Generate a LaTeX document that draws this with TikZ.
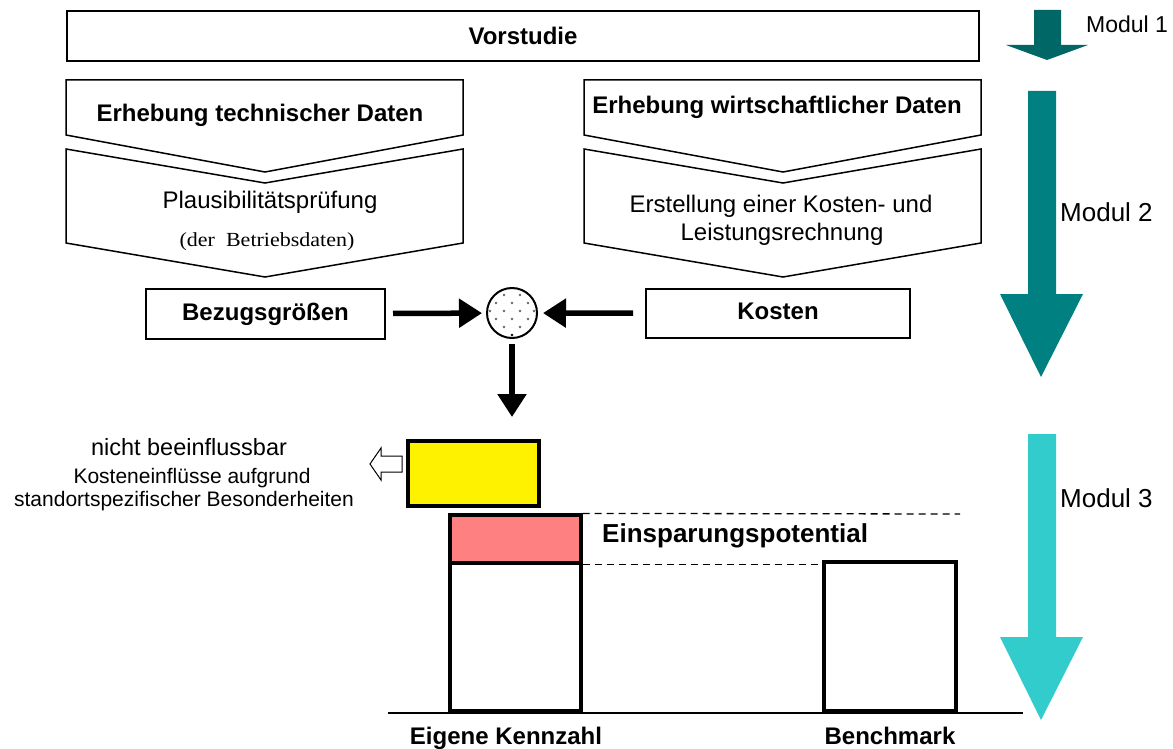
\documentclass[tikz,border=0pt]{standalone}
\usepackage{fontspec}
\setmainfont{Liberation Sans}
\newfontfamily\serifpart{Liberation Serif}
\usetikzlibrary{arrows.meta}

\definecolor{modulone}{RGB}{0,102,102}
\definecolor{modultwo}{RGB}{0,128,128}
\definecolor{modulthree}{RGB}{51,204,204}
\definecolor{savingred}{RGB}{255,128,128}

\newcommand{\pxsize}[1]{\fontsize{#1}{#1}\selectfont}

\tikzstyle{normtext}=[inner sep=0pt, anchor=base, font=\pxsize{24}]
\tikzstyle{boldtext}=[inner sep=0pt, anchor=base, font=\pxsize{24}\bfseries]
\tikzstyle{frame}=[draw, line width=2pt, rectangle, inner sep=0pt, font=\pxsize{24}\bfseries]
\tikzstyle{chevron}=[draw, line width=1.5pt, line join=miter, fill=white]
\tikzstyle{bar}=[draw, line width=3.2pt, rectangle, inner sep=0pt]
\tikzstyle{flow}=[line width=5.5pt, -{Triangle[length=23pt,width=28pt]}]
\tikzstyle{level}=[dash pattern=on 7pt off 5pt, line width=1.3pt]

\begin{document}
\begin{tikzpicture}[x=1pt, y=-1pt]
\useasboundingbox (0,0) rectangle (1173,749);

% module arrows
\fill[modulone] (1034,10) -- (1061,10) -- (1061,45) -- (1088,45) -- (1047,60) -- (1006,45) -- (1034,45) -- cycle;
\fill[modultwo] (1028,91) -- (1056,91) -- (1056,294) -- (1083,294) -- (1041,377) -- (1000,294) -- (1028,294) -- cycle;
\fill[modulthree] (1028,434) -- (1056,434) -- (1056,637) -- (1083,637) -- (1041,720) -- (1000,637) -- (1028,637) -- cycle;
\node[normtext, anchor=base west, font=\pxsize{23}] (modul1) at (1086,33) {Modul 1};
\node[normtext, anchor=base west, font=\pxsize{26}] (modul2) at (1060,222) {Modul 2};
\node[normtext, anchor=base west, font=\pxsize{26}] (modul3) at (1060,507) {Modul 3};

\node[frame, minimum width=912pt, minimum height=50pt] (vorstudie) at (523,36) {Vorstudie};

% chevrons
\draw[chevron] (66,80) -- (463,80) -- (463,135) -- (265,172) -- (66,135) -- cycle;
\draw[chevron] (66,149) -- (265,183) -- (463,149) -- (463,243) -- (265,277) -- (66,243) -- cycle;
\begin{scope}[xshift=518pt]
\draw[chevron] (66,80) -- (463,80) -- (463,135) -- (265,172) -- (66,135) -- cycle;
\draw[chevron] (66,149) -- (265,183) -- (463,149) -- (463,243) -- (265,277) -- (66,243) -- cycle;
\end{scope}

\node[boldtext] (techdaten) at (260,122) {Erhebung technischer Daten};
\node[boldtext] (wirtdaten) at (777,114) {Erhebung wirtschaftlicher Daten};
\node[normtext] (plaus) at (270,208) {Plausibilitätsprüfung};
\node[normtext, font=\serifpart\pxsize{20}] (betrieb) at (267,246) {\scalebox{1.1}[1]{(der\ \ Betriebsdaten)}};
\node[normtext] (erstell) at (781,212) {Erstellung einer Kosten- und};
\node[normtext] (leistung) at (782,240) {Leistungsrechnung};

\node[frame, minimum width=239pt, minimum height=50pt, text height=17pt, text depth=5pt] (bezug) at (265.5,314) {Bezugsgrößen};
\node[frame, minimum width=264pt, minimum height=49pt, text height=17pt, text depth=5pt] (kosten) at (778,313.5) {Kosten};

\node[circle, draw, line width=2pt, minimum size=50pt, inner sep=0pt, fill=white] (mix) at (512,313) {};
\foreach \dx/\dy in {-8/-18,8/-18,-16/-10,0/-10,16/-10,-22/-2,-8/-2,8/-2,22/-2,-16/6,0/6,16/6,-8/14,8/14}
  \fill[black!60] ([shift={(\dx,\dy)}]mix.center) circle (1.3pt);
\fill ([shift={(0,22)}]mix.center) circle (1.4pt);

\draw[flow, shorten <=7pt, shorten >=4pt] (bezug) -- (mix);
\draw[flow, shorten <=12pt, shorten >=5pt] (kosten) -- (mix);
\coordinate (mixout) at (512,417);
\draw[flow, shorten <=5pt] (mix) -- (mixout);

% bars
\node[bar, fill=yellow, minimum width=131pt, minimum height=65pt] (fixedbar) at (473.5,473.5) {};
\node[bar, fill=savingred, minimum width=131pt, minimum height=48pt] (savebar) at (515.5,539) {};
\node[bar, minimum width=131pt, minimum height=148pt] (ownbar) at (515.5,637) {};
\node[bar, minimum width=132pt, minimum height=149pt] (benchbar) at (890,636.5) {};

\coordinate (saveend) at (960,514);
\draw[level] (savebar.north east) -- (saveend);
\draw[level] (savebar.south east) -- (benchbar.north west |- savebar.south east);

\coordinate (axisleft) at (388,712.5);
\coordinate (axisright) at (1023,712.5);
\draw[line width=2pt] (axisleft) -- (axisright);

\draw[line width=1pt, fill=white] (402,456) -- (381,456) -- (381,448) -- (370,464) -- (381,480) -- (381,472) -- (402,472) -- cycle;

\node[normtext, font=\pxsize{23.5}] (fixed1) at (189,455) {nicht beeinflussbar};
\node[normtext, font=\pxsize{21}] (fixed2) at (192,483) {Kosteneinflüsse aufgrund};
\node[normtext, font=\pxsize{21}] (fixed3) at (184,506) {standortspezifischer Besonderheiten};

\node[boldtext, anchor=base west, font=\pxsize{26}\bfseries] (saving) at (602,542) {Einsparungspotential};
\node[boldtext] (ownlabel) at (506,744) {Eigene Kennzahl};
\node[boldtext] (benchlabel) at (890,744) {Benchmark};
\end{tikzpicture}
\end{document}
